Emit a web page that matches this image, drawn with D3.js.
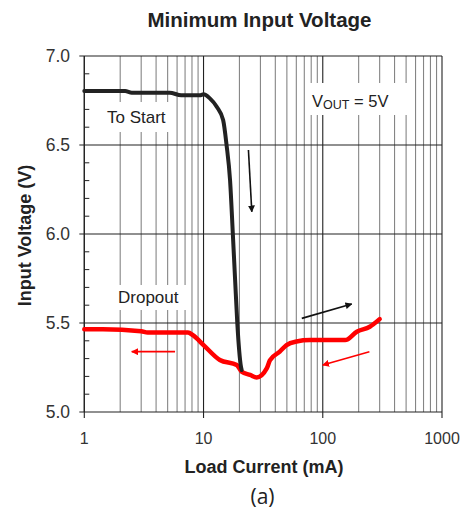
<!DOCTYPE html>
<html>
<head>
<meta charset="utf-8">
<script src="https://cdn.jsdelivr.net/npm/d3@7"></script>
<style>
  html, body { margin: 0; padding: 0; background: #fff; }
  svg { display: block; }
  text { font-family: "Liberation Sans", Arial, Helvetica, sans-serif; }
</style>
</head>
<body>
<svg id="chart" width="466" height="510"></svg>
<script>
// ---- data ----
const xTicks = [1, 10, 100, 1000];
const xTickLabels = ["1", "10", "100", "1000"];
const yTicks = [5.0, 5.5, 6.0, 6.5, 7.0];
const yTickLabels = ["5.0", "5.5", "6.0", "6.5", "7.0"];

// "To Start" curve (black)
const startCurrent = [1, 2.2, 2.5, 5.2, 6.5, 9.3, 10, 11.3, 12.9, 14.6, 15.6, 16.7, 17.6, 18.4, 19.2, 20.6, 20.9];
const startVoltage = [6.803, 6.803, 6.794, 6.794, 6.779, 6.779, 6.785, 6.762, 6.715, 6.64, 6.50, 6.30, 6.004, 5.742, 5.498, 5.255, 5.236];

// "Dropout" curve (red)
const dropCurrent = [1, 1.43, 3.0, 3.4, 7.4, 8.2, 10, 13.7, 19, 20.9, 24.6, 27.9, 33.9, 36, 43.6, 49.7, 60.2, 78, 154, 193, 248, 300];
const dropVoltage = [5.465, 5.465, 5.454, 5.446, 5.446, 5.43, 5.376, 5.292, 5.264, 5.226, 5.208, 5.194, 5.245, 5.29, 5.339, 5.376, 5.396, 5.404, 5.404, 5.451, 5.479, 5.522];

// direction arrows: [x1, v1, x2, v2]
const blackArrows = [[23.8, 6.472, 25.4, 6.125], [66.7, 5.526, 175, 5.607]];
const redArrows = [[5.77, 5.339, 2.5, 5.339], [246, 5.339, 100, 5.264]];

// ---- layout ----
const svg = d3.select("#chart");
const pLeft = 84.3, pRight = 442, pTop = 56, pBottom = 412;
const x = d3.scaleLog().domain([1, 1000]).range([pLeft, pRight]);
const y = d3.scaleLinear().domain([5, 7]).range([pBottom, pTop]);

// arrow markers
const defs = svg.append("defs");
[["ahBlack", "#111"], ["ahRed", "#ff0000"]].forEach(([id, col]) => {
  defs.append("marker").attr("id", id).attr("viewBox", "0 0 10 10")
    .attr("refX", 9).attr("refY", 5).attr("markerWidth", 7).attr("markerHeight", 7)
    .attr("markerUnits", "userSpaceOnUse").attr("orient", "auto")
    .append("path").attr("d", "M0,0 L10,5 L0,10 z").attr("fill", col);
});

// minor vertical grid
const minor = [];
[1, 10, 100].forEach(d => { for (let k = 2; k <= 9; k++) minor.push(d * k); });
svg.append("g").selectAll("line").data(minor).join("line")
  .attr("x1", d => x(d)).attr("x2", d => x(d))
  .attr("y1", pTop).attr("y2", pBottom)
  .attr("stroke", "#858585").attr("stroke-width", 1.1);

// major vertical grid
svg.append("g").selectAll("line").data(xTicks).join("line")
  .attr("x1", d => x(d)).attr("x2", d => x(d))
  .attr("y1", pTop).attr("y2", pBottom + 6)
  .attr("stroke", "#222").attr("stroke-width", 1.1);

// horizontal grid
svg.append("g").selectAll("line").data(yTicks).join("line")
  .attr("x1", pLeft - 5).attr("x2", pRight)
  .attr("y1", d => y(d)).attr("y2", d => y(d))
  .attr("stroke", "#222").attr("stroke-width", 1.1);

// minor y ticks (inside)
const yMinor = d3.range(5.1, 7.0, 0.1).filter(v => Math.abs(v * 2 - Math.round(v * 2)) > 0.01);
svg.append("g").selectAll("line").data(yMinor).join("line")
  .attr("x1", pLeft).attr("x2", pLeft + 5)
  .attr("y1", d => y(d)).attr("y2", d => y(d))
  .attr("stroke", "#222").attr("stroke-width", 1);

// left axis line
svg.append("line").attr("x1", pLeft).attr("x2", pLeft).attr("y1", pTop).attr("y2", pBottom)
  .attr("stroke", "#222").attr("stroke-width", 1.2);

// tick labels
svg.append("g").selectAll("text").data(yTicks).join("text")
  .attr("x", 70).attr("y", d => y(d) + 6)
  .attr("text-anchor", "end").attr("font-size", 17.5).attr("fill", "#333")
  .text((d, i) => yTickLabels[i]);
svg.append("g").selectAll("text").data(xTicks).join("text")
  .attr("x", d => x(d)).attr("y", 443.5)
  .attr("text-anchor", "middle").attr("font-size", 16).attr("fill", "#333")
  .text((d, i) => xTickLabels[i]);

// label boxes
const boxes = [[100, 102, 74, 30], [110, 285, 78, 25], [308, 83, 100, 32]];
svg.append("g").selectAll("rect").data(boxes).join("rect")
  .attr("x", d => d[0]).attr("y", d => d[1]).attr("width", d => d[2]).attr("height", d => d[3])
  .attr("fill", "#fff");

svg.append("text").attr("x", 107).attr("y", 122.5).attr("font-size", 17).attr("fill", "#222").text("To Start");
svg.append("text").attr("x", 118).attr("y", 302.5).attr("font-size", 17).attr("fill", "#222").text("Dropout");
const vt = svg.append("text").attr("x", 312).attr("y", 107).attr("font-size", 16.5).attr("fill", "#222");
vt.append("tspan").text("V");
vt.append("tspan").attr("font-size", 12.5).attr("dy", 2).text("OUT");
vt.append("tspan").attr("dy", -2).text(" = 5V");

// curves
const line = d3.line().x(d => x(d[0])).y(d => y(d[1])).curve(d3.curveMonotoneX);
svg.append("path").datum(dropCurrent.map((c, i) => [c, dropVoltage[i]]))
  .attr("d", line).attr("fill", "none").attr("stroke", "#ff0000")
  .attr("stroke-width", 4.5).attr("stroke-linejoin", "round").attr("stroke-linecap", "round");
svg.append("path").datum(startCurrent.map((c, i) => [c, startVoltage[i]]))
  .attr("d", line).attr("fill", "none").attr("stroke", "#222")
  .attr("stroke-width", 4).attr("stroke-linejoin", "round").attr("stroke-linecap", "round");

// arrows
svg.append("g").selectAll("line").data(blackArrows).join("line")
  .attr("x1", d => x(d[0])).attr("y1", d => y(d[1])).attr("x2", d => x(d[2])).attr("y2", d => y(d[3]))
  .attr("stroke", "#111").attr("stroke-width", 1.6).attr("marker-end", "url(#ahBlack)");
svg.append("g").selectAll("line").data(redArrows).join("line")
  .attr("x1", d => x(d[0])).attr("y1", d => y(d[1])).attr("x2", d => x(d[2])).attr("y2", d => y(d[3]))
  .attr("stroke", "#ff0000").attr("stroke-width", 1.6).attr("marker-end", "url(#ahRed)");

// titles
svg.append("text").attr("x", 259.5).attr("y", 27).attr("text-anchor", "middle")
  .attr("font-size", 20.5).attr("font-weight", "bold").attr("fill", "#222").text("Minimum Input Voltage");
svg.append("text").attr("x", 264).attr("y", 472.5).attr("text-anchor", "middle")
  .attr("font-size", 18).attr("font-weight", "bold").attr("fill", "#222").text("Load Current (mA)");
svg.append("text").attr("transform", "translate(31,235.5) rotate(-90)").attr("text-anchor", "middle")
  .attr("font-size", 18).attr("font-weight", "bold").attr("fill", "#222").text("Input Voltage (V)");
svg.append("text").attr("x", 262.5).attr("y", 504).attr("text-anchor", "middle")
  .attr("font-size", 21).attr("fill", "#222").style("font-family", "'Open Sans', sans-serif").text("(a)");
</script>
</body>
</html>
